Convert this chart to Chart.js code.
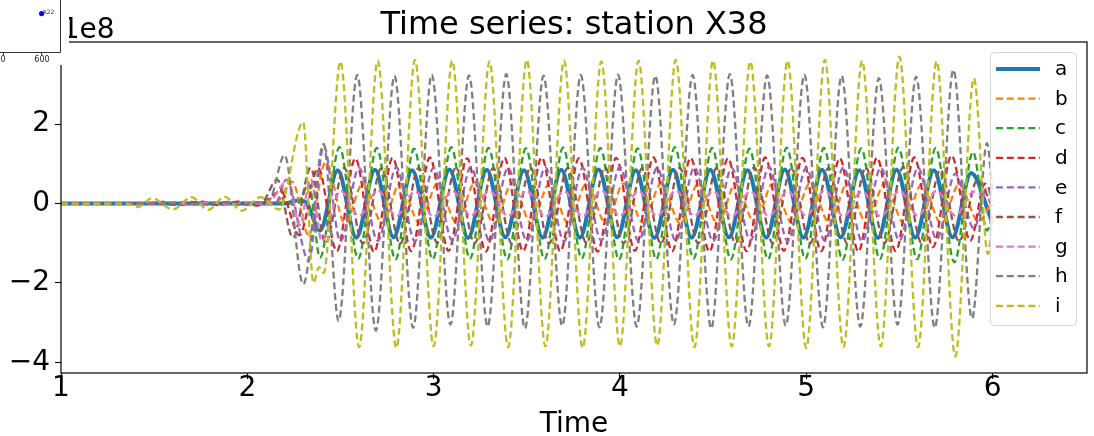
<!DOCTYPE html>
<html lang="en">
<head>
<meta charset="UTF-8">
<title>Time series: station X38</title>
<script src="https://cdn.jsdelivr.net/npm/chart.js@4.4.1/dist/chart.umd.min.js"></script>
<style>
  html, body { margin: 0; padding: 0; background: #fff; overflow: hidden; }
  #wrap { position: relative; width: 1094px; height: 436px; }
  #main { position: absolute; left: 0; top: 0; }
  #inset { position: absolute; left: -20px; top: -15px; background: #fff; }
</style>
</head>
<body>
<div id="wrap">
  <canvas id="main" width="1094" height="436"></canvas>
  <canvas id="inset" width="89" height="80"></canvas>
</div>
<script>
// series names and colours (matplotlib tab10)
const names = ['a', 'b', 'c', 'd', 'e', 'f', 'g', 'h', 'i'];
const colors = ['#1f77b4', '#ff7f0e', '#2ca02c', '#d62728', '#9467bd',
                '#8c564b', '#e377c2', '#7f7f7f', '#bcbd22'];

// tick labels
const xTicks = [1, 2, 3, 4, 5, 6];
const xTickLabels = ['1', '2', '3', '4', '5', '6'];
const yTicks = [-4, -2, 0, 2];
const yTickLabels = ['\u22124', '\u22122', '0', '2'];

// [time, value in 1e8] read at the turning points of each curve
const seriesA = [[1.00,0],[2.20,0],[2.28,0.08],[2.32,0.0],[2.39,-0.68],
  [2.485,0.84],[2.585,-0.86],[2.685,0.85],[2.785,-0.85],[2.885,0.84],[2.985,-0.86],[3.085,0.86],[3.185,-0.87],
  [3.285,0.85],[3.385,-0.85],[3.485,0.84],[3.585,-0.86],[3.685,0.85],[3.785,-0.86],[3.885,0.86],[3.985,-0.85],
  [4.085,0.84],[4.185,-0.87],[4.285,0.85],[4.385,-0.86],[4.485,0.85],[4.585,-0.85],[4.685,0.84],[4.785,-0.86],
  [4.885,0.86],[4.985,-0.86],[5.085,0.85],[5.185,-0.85],[5.285,0.84],[5.385,-0.87],[5.485,0.85],[5.585,-0.86],
  [5.685,0.84],[5.785,-0.85],[5.885,0.77],[5.995,-0.43]];

const seriesB = [[1.00,0],[2.15,0],[2.24,0.55],[2.33,-0.8],[2.42,1.05],
  [2.525,-0.5],[2.62,0.5],[2.725,-0.49],[2.82,0.51],[2.925,-0.5],[3.02,0.5],[3.125,-0.49],[3.22,0.51],
  [3.325,-0.5],[3.42,0.5],[3.525,-0.5],[3.62,0.49],[3.725,-0.51],[3.82,0.5],[3.925,-0.5],[4.02,0.51],
  [4.125,-0.49],[4.22,0.5],[4.325,-0.5],[4.42,0.5],[4.525,-0.51],[4.62,0.49],[4.725,-0.5],[4.82,0.5],
  [4.925,-0.5],[5.02,0.51],[5.125,-0.49],[5.22,0.5],[5.325,-0.5],[5.42,0.5],[5.525,-0.5],[5.62,0.49],
  [5.725,-0.5],[5.82,0.48],[5.925,-0.45],[6.00,0.1]];

const seriesC = [[1.00,0],[2.27,0],[2.33,0.5],[2.39,-1.36],
  [2.495,1.42],[2.595,-1.39],[2.695,1.4],[2.795,-1.41],[2.895,1.38],[2.995,-1.4],[3.095,1.42],[3.195,-1.39],
  [3.295,1.4],[3.395,-1.41],[3.495,1.39],[3.595,-1.4],[3.695,1.41],[3.795,-1.38],[3.895,1.4],[3.995,-1.41],
  [4.095,1.39],[4.195,-1.4],[4.295,1.42],[4.395,-1.39],[4.495,1.4],[4.595,-1.41],[4.695,1.38],[4.795,-1.4],
  [4.895,1.41],[4.995,-1.39],[5.095,1.4],[5.195,-1.42],[5.295,1.39],[5.395,-1.4],[5.495,1.41],[5.595,-1.4],
  [5.695,1.4],[5.795,-1.48],[5.895,1.3],[5.97,-0.68],[6.00,-0.3]];

const seriesD = [[1.00,0],[1.45,0],[1.55,0.04],[1.65,-0.03],[1.75,0.05],[1.85,-0.04],[1.95,0.05],[2.05,-0.05],
  [2.18,0.3],[2.28,-0.8],[2.38,0.9],
  [2.48,-1.2],[2.58,1.14],[2.68,-1.22],[2.78,1.15],[2.88,-1.2],[2.98,1.16],[3.08,-1.19],[3.18,1.14],
  [3.28,-1.21],[3.38,1.15],[3.48,-1.2],[3.58,1.16],[3.68,-1.2],[3.78,1.14],[3.88,-1.21],[3.98,1.15],
  [4.08,-1.19],[4.18,1.16],[4.28,-1.2],[4.38,1.15],[4.48,-1.21],[4.58,1.14],[4.68,-1.2],[4.78,1.16],
  [4.88,-1.19],[4.98,1.15],[5.08,-1.2],[5.18,1.14],[5.28,-1.21],[5.38,1.15],[5.48,-1.2],[5.58,1.16],
  [5.68,-1.1],[5.78,1.21],[5.88,-0.94],[5.96,0.5],[6.00,0.2]];

const seriesE = [[1.00,0],[2.15,0],[2.21,0.6],[2.33,-1.44],[2.41,1.45],
  [2.50,-0.95],[2.60,0.9],[2.70,-0.94],[2.80,0.91],[2.90,-0.95],[3.00,0.9],[3.10,-0.93],[3.20,0.92],
  [3.30,-0.95],[3.40,0.9],[3.50,-0.94],[3.60,0.91],[3.70,-0.95],[3.80,0.9],[3.90,-0.93],[4.00,0.92],
  [4.10,-0.95],[4.20,0.9],[4.30,-0.94],[4.40,0.91],[4.50,-0.95],[4.60,0.9],[4.70,-0.93],[4.80,0.92],
  [4.90,-0.95],[5.00,0.9],[5.10,-0.94],[5.20,0.91],[5.30,-0.95],[5.40,0.9],[5.50,-0.93],[5.60,0.9],
  [5.70,-0.9],[5.80,0.75],[5.90,-0.63],[5.97,0.4],[6.00,0.1]];

const seriesF = [[1.00,0],[1.50,0],[1.60,-0.03],[1.70,0.04],[1.80,-0.03],[1.90,0.04],[2.00,-0.03],[2.08,0.03],
  [2.16,0.6],[2.245,-0.86],[2.34,0.9],[2.42,-1.0],
  [2.52,0.9],[2.62,-1.0],[2.72,0.89],[2.82,-1.01],[2.92,0.9],[3.02,-0.99],[3.12,0.91],[3.22,-1.0],
  [3.32,0.89],[3.42,-1.01],[3.52,0.9],[3.62,-1.0],[3.72,0.9],[3.82,-0.99],[3.92,0.91],[4.02,-1.0],
  [4.12,0.89],[4.22,-1.01],[4.32,0.9],[4.42,-1.0],[4.52,0.9],[4.62,-0.99],[4.72,0.91],[4.82,-1.0],
  [4.92,0.89],[5.02,-1.01],[5.12,0.9],[5.22,-1.0],[5.32,0.9],[5.42,-0.99],[5.52,0.91],[5.62,-1.0],
  [5.72,0.85],[5.82,-0.95],[5.92,0.6],[6.00,-0.1]];

const seriesG = [[1.00,0],[1.50,0],[1.60,0.03],[1.70,-0.03],[1.80,0.03],[1.90,-0.03],[2.00,0.03],[2.10,-0.02],
  [2.22,0.58],[2.28,-0.55],[2.34,0.62],[2.40,-0.95],
  [2.50,0.32],[2.60,-0.31],[2.70,0.33],[2.80,-0.32],[2.90,0.31],[3.00,-0.33],[3.10,0.32],[3.20,-0.31],
  [3.30,0.33],[3.40,-0.32],[3.50,0.32],[3.60,-0.33],[3.70,0.31],[3.80,-0.32],[3.90,0.33],[4.00,-0.31],
  [4.10,0.32],[4.20,-0.32],[4.30,0.33],[4.40,-0.31],[4.50,0.32],[4.60,-0.33],[4.70,0.31],[4.80,-0.32],
  [4.90,0.32],[5.00,-0.31],[5.10,0.33],[5.20,-0.32],[5.30,0.31],[5.40,-0.33],[5.50,0.32],[5.60,-0.31],
  [5.70,0.32],[5.80,-0.3],[5.90,0.3],[6.00,0.05]];

const seriesH = [[1.00,0],[1.55,0],[1.65,0.03],[1.75,-0.03],[1.85,0.03],[1.95,-0.03],[2.05,0.03],[2.12,0.1],
  [2.20,1.22],[2.30,-2.03],[2.41,1.5],
  [2.49,-2.96],[2.59,3.24],[2.69,-3.2],[2.79,3.22],[2.89,-3.13],[2.99,3.25],[3.09,-3.05],[3.19,3.23],
  [3.29,-3.1],[3.39,3.26],[3.49,-3.15],[3.59,3.22],[3.69,-3.08],[3.79,3.24],[3.89,-3.12],[3.99,3.25],
  [4.09,-3.1],[4.19,3.22],[4.29,-3.05],[4.39,3.24],[4.49,-3.15],[4.59,3.26],[4.69,-3.1],[4.79,3.23],
  [4.89,-3.08],[4.99,3.25],[5.09,-3.12],[5.19,3.22],[5.29,-3.1],[5.39,3.16],[5.49,-3.05],[5.59,3.2],
  [5.69,-3.13],[5.79,3.37],[5.89,-2.9],[5.97,1.52],[6.00,0.3]];

const seriesI = [[1.00,0],[1.35,0],[1.41,-0.09],[1.49,0.13],[1.60,-0.15],[1.70,0.16],[1.79,-0.16],[1.88,0.17],
  [1.97,-0.18],[2.07,0.16],[2.17,-0.15],[2.30,2.05],[2.355,-2.0],[2.385,-1.6],[2.41,-1.75],
  [2.50,3.58],[2.60,-3.62],[2.70,3.6],[2.80,-3.64],[2.90,3.62],[3.00,-3.6],[3.10,3.6],[3.20,-3.58],
  [3.30,3.58],[3.40,-3.62],[3.50,3.62],[3.60,-3.6],[3.70,3.6],[3.80,-3.64],[3.90,3.58],[4.00,-3.6],
  [4.10,3.6],[4.20,-3.58],[4.30,3.62],[4.40,-3.62],[4.50,3.6],[4.60,-3.6],[4.70,3.58],[4.80,-3.6],
  [4.90,3.6],[5.00,-3.64],[5.10,3.62],[5.20,-3.62],[5.30,3.6],[5.40,-3.6],[5.50,3.7],[5.60,-3.62],
  [5.70,3.58],[5.80,-3.85],[5.90,3.16],[5.975,-1.27],[6.00,-0.4]];

// small inset panel (top left)
const insetX = [595];
const insetY = [0.61];
const insetLabels = ['X22'];
const insetTicks = [0, 600];

const FONT = 'DejaVu Sans';
const allSeries = [seriesA, seriesB, seriesC, seriesD, seriesE, seriesF, seriesG, seriesH, seriesI];

const datasets = allSeries.map((pts, i) => ({
  label: names[i],
  data: pts.map(p => ({ x: p[0], y: p[1] })),
  borderColor: colors[i],
  borderWidth: i === 0 ? 4 : 2.3,
  borderDash: i === 0 ? [] : [7, 3.8],
  pointRadius: 0,
  fill: false,
  cubicInterpolationMode: 'monotone',
  order: names.length - 1 - i
}));

// spines, legend box, title and other texts
const decor = {
  id: 'decor',
  afterDatasetsDraw(chart) {
    const { ctx, chartArea: ca } = chart;
    ctx.save();
    ctx.strokeStyle = '#000';
    ctx.lineWidth = 1.2;
    ctx.setLineDash([]);
    ctx.strokeRect(ca.left, ca.top, ca.right - ca.left, ca.bottom - ca.top);

    // legend
    const bx = 990.5, by = 52.5, bw = 86, bh = 273, r = 4;
    ctx.beginPath();
    ctx.moveTo(bx + r, by);
    ctx.arcTo(bx + bw, by, bx + bw, by + bh, r);
    ctx.arcTo(bx + bw, by + bh, bx, by + bh, r);
    ctx.arcTo(bx, by + bh, bx, by, r);
    ctx.arcTo(bx, by, bx + bw, by, r);
    ctx.closePath();
    ctx.fillStyle = 'rgba(255,255,255,0.8)';
    ctx.fill();
    ctx.strokeStyle = '#d6d6d6';
    ctx.lineWidth = 1;
    ctx.stroke();

    ctx.font = '20px "' + FONT + '"';
    ctx.textAlign = 'left';
    ctx.textBaseline = 'middle';
    names.forEach((n, i) => {
      const y = 69 + i * 29.6;
      ctx.beginPath();
      ctx.strokeStyle = colors[i];
      ctx.lineWidth = i === 0 ? 4 : 2.3;
      ctx.setLineDash(i === 0 ? [] : [7, 3.8]);
      ctx.moveTo(996, y);
      ctx.lineTo(1040, y);
      ctx.stroke();
      ctx.fillStyle = '#000';
      ctx.fillText(n, 1055, y + 1);
    });
    ctx.restore();
  },
  afterDraw(chart) {
    const { ctx, chartArea: ca } = chart;
    const cx = (ca.left + ca.right) / 2;
    ctx.save();
    ctx.fillStyle = '#000';
    ctx.textBaseline = 'alphabetic';
    ctx.textAlign = 'center';
    ctx.font = '32px "' + FONT + '"';
    ctx.fillText('Time series: station X38', cx, 34);
    ctx.font = '28px "' + FONT + '"';
    ctx.fillText('Time', cx, 432);
    ctx.textAlign = 'left';
    ctx.fillText('1e8', 61.7, 37.5);
    ctx.restore();
  }
};

new Chart(document.getElementById('main'), {
  type: 'line',
  data: { datasets },
  options: {
    responsive: false,
    animation: false,
    layout: { padding: { left: 0, right: 7, top: 42, bottom: 0 } },
    plugins: { legend: { display: false }, title: { display: false }, tooltip: { enabled: false } },
    scales: {
      x: {
        type: 'linear', min: 1, max: 6.507,
        afterBuildTicks: s => { s.ticks = xTicks.map(v => ({ value: v })); },
        afterFit: s => { s.height = 63; },
        grid: { drawOnChartArea: false, tickLength: 6, tickColor: '#000', tickWidth: 1.1 },
        border: { display: false },
        ticks: {
          autoSkip: false, maxRotation: 0, padding: -4, color: '#000',
          font: { family: FONT, size: 28, lineHeight: 1 },
          callback: (v, i) => xTickLabels[i]
        }
      },
      y: {
        type: 'linear', min: -4.27, max: 4.07,
        afterBuildTicks: s => { s.ticks = yTicks.map(v => ({ value: v })); },
        afterFit: s => { s.width = 61; },
        grid: { drawOnChartArea: false, tickLength: 6, tickColor: '#000', tickWidth: 1.1 },
        border: { display: false },
        ticks: {
          autoSkip: false, padding: 5, color: '#000',
          font: { family: FONT, size: 28, lineHeight: 1 },
          callback: (v, i) => yTickLabels[i]
        }
      }
    }
  },
  plugins: [decor]
});

// inset: right/top spines and point label
const insetDecor = {
  id: 'insetDecor',
  afterDatasetsDraw(chart) {
    const { ctx, chartArea: ca } = chart;
    ctx.save();
    ctx.strokeStyle = '#333';
    ctx.lineWidth = 1;
    ctx.beginPath();
    ctx.moveTo(ca.left, ca.bottom + 0.5);
    ctx.lineTo(ca.right + 0.5, ca.bottom + 0.5);
    ctx.lineTo(ca.right + 0.5, ca.top);
    ctx.stroke();
    const meta = chart.getDatasetMeta(0);
    ctx.fillStyle = '#333';
    ctx.font = '6px "' + FONT + '"';
    ctx.textBaseline = 'alphabetic';
    meta.data.forEach((pt, i) => ctx.fillText(insetLabels[i], pt.x + 1, pt.y + 0.5));
    ctx.restore();
  }
};

new Chart(document.getElementById('inset'), {
  type: 'scatter',
  data: {
    datasets: [{
      data: insetX.map((x, i) => ({ x, y: insetY[i] })),
      backgroundColor: '#0000ff',
      borderWidth: 0,
      pointRadius: 2.6
    }]
  },
  options: {
    responsive: false,
    animation: false,
    layout: { padding: { left: 0, right: 9, top: 0, bottom: 0 } },
    plugins: { legend: { display: false }, tooltip: { enabled: false } },
    scales: {
      x: {
        type: 'linear', min: -292.7, max: 878,
        afterBuildTicks: s => { s.ticks = insetTicks.map(v => ({ value: v })); },
        afterFit: s => { s.height = 13; },
        grid: { drawOnChartArea: false, tickLength: 3, tickColor: '#333' },
        border: { display: false },
        ticks: { autoSkip: false, maxRotation: 0, padding: 1, color: '#222', font: { family: FONT, size: 8, lineHeight: 1 } }
      },
      y: { display: false, min: 0, max: 1 }
    }
  },
  plugins: [insetDecor]
});
</script>
</body>
</html>
